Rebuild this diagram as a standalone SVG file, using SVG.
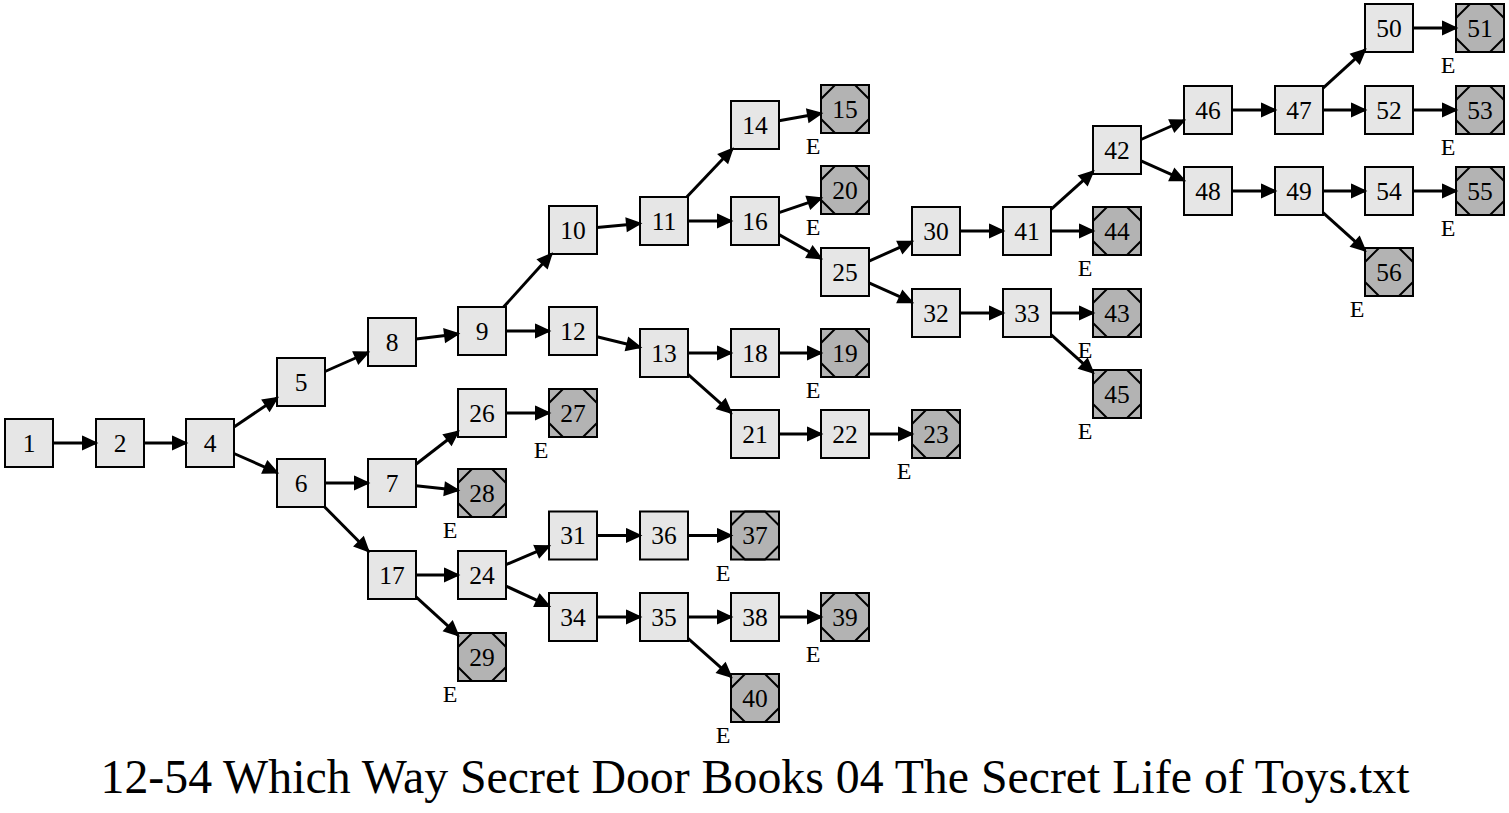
<svg xmlns="http://www.w3.org/2000/svg" width="1509" height="813" viewBox="0 0 1509 813">
  <style>
    use.b { fill: #e6e6e6; stroke: #000; stroke-width: 2; }
    .e use.b { fill: #b3b3b3; }
    use.o { fill: none; stroke: #000; stroke-width: 2; }
    text { font-family: "Liberation Serif", "Times New Roman", serif; fill: #000; stroke: none; }
    .lbl { font-size: 25.5px; text-anchor: middle; }
    .tag { font-size: 24px; text-anchor: middle; }
    .title { font-size: 48px; text-anchor: middle; }
    #edges path { fill: none; stroke: #000; stroke-width: 3; marker-end: url(#arrow); }
  </style>
  <defs>
    <marker id="arrow" markerUnits="userSpaceOnUse" markerWidth="20" markerHeight="16" refX="14" refY="6.5" orient="auto" overflow="visible">
      <path d="M1,0.5 L14,6.5 L1,12.5 Z" fill="#000" stroke="#000" stroke-width="2" stroke-linejoin="miter"/>
    </marker>
    <!-- 48x48 box and the octagon drawn inside end nodes -->
    <rect id="box" x="-24" y="-24" width="48" height="48"/>
    <polygon id="oct" points="-10,-24 10,-24 24,-10 24,10 10,24 -10,24 -24,10 -24,-10"/>
  </defs>

  <rect width="1509" height="813" fill="#fff"/>

  <!-- regular nodes -->
  <g id="n1" class="n" transform="translate(29,443)"><use class="b" href="#box"/><text class="lbl" y="8.5">1</text></g>
  <g id="n2" class="n" transform="translate(120,443)"><use class="b" href="#box"/><text class="lbl" y="8.5">2</text></g>
  <g id="n4" class="n" transform="translate(210,443)"><use class="b" href="#box"/><text class="lbl" y="8.5">4</text></g>
  <g id="n5" class="n" transform="translate(301,382)"><use class="b" href="#box"/><text class="lbl" y="8.5">5</text></g>
  <g id="n6" class="n" transform="translate(301,483)"><use class="b" href="#box"/><text class="lbl" y="8.5">6</text></g>
  <g id="n8" class="n" transform="translate(392,342)"><use class="b" href="#box"/><text class="lbl" y="8.5">8</text></g>
  <g id="n7" class="n" transform="translate(392,483)"><use class="b" href="#box"/><text class="lbl" y="8.5">7</text></g>
  <g id="n17" class="n" transform="translate(392,575)"><use class="b" href="#box"/><text class="lbl" y="8.5">17</text></g>
  <g id="n9" class="n" transform="translate(482,331)"><use class="b" href="#box"/><text class="lbl" y="8.5">9</text></g>
  <g id="n26" class="n" transform="translate(482,413)"><use class="b" href="#box"/><text class="lbl" y="8.5">26</text></g>
  <g id="n24" class="n" transform="translate(482,575)"><use class="b" href="#box"/><text class="lbl" y="8.5">24</text></g>
  <g id="n10" class="n" transform="translate(573,230)"><use class="b" href="#box"/><text class="lbl" y="8.5">10</text></g>
  <g id="n12" class="n" transform="translate(573,331)"><use class="b" href="#box"/><text class="lbl" y="8.5">12</text></g>
  <g id="n31" class="n" transform="translate(573,535.5)"><use class="b" href="#box"/><text class="lbl" y="8.5">31</text></g>
  <g id="n34" class="n" transform="translate(573,617)"><use class="b" href="#box"/><text class="lbl" y="8.5">34</text></g>
  <g id="n11" class="n" transform="translate(664,221)"><use class="b" href="#box"/><text class="lbl" y="8.5">11</text></g>
  <g id="n13" class="n" transform="translate(664,353)"><use class="b" href="#box"/><text class="lbl" y="8.5">13</text></g>
  <g id="n36" class="n" transform="translate(664,535.5)"><use class="b" href="#box"/><text class="lbl" y="8.5">36</text></g>
  <g id="n35" class="n" transform="translate(664,617)"><use class="b" href="#box"/><text class="lbl" y="8.5">35</text></g>
  <g id="n14" class="n" transform="translate(755,125)"><use class="b" href="#box"/><text class="lbl" y="8.5">14</text></g>
  <g id="n16" class="n" transform="translate(755,221)"><use class="b" href="#box"/><text class="lbl" y="8.5">16</text></g>
  <g id="n18" class="n" transform="translate(755,353)"><use class="b" href="#box"/><text class="lbl" y="8.5">18</text></g>
  <g id="n21" class="n" transform="translate(755,434)"><use class="b" href="#box"/><text class="lbl" y="8.5">21</text></g>
  <g id="n38" class="n" transform="translate(755,617)"><use class="b" href="#box"/><text class="lbl" y="8.5">38</text></g>
  <g id="n25" class="n" transform="translate(845,272)"><use class="b" href="#box"/><text class="lbl" y="8.5">25</text></g>
  <g id="n22" class="n" transform="translate(845,434)"><use class="b" href="#box"/><text class="lbl" y="8.5">22</text></g>
  <g id="n30" class="n" transform="translate(936,231)"><use class="b" href="#box"/><text class="lbl" y="8.5">30</text></g>
  <g id="n32" class="n" transform="translate(936,313)"><use class="b" href="#box"/><text class="lbl" y="8.5">32</text></g>
  <g id="n41" class="n" transform="translate(1027,231)"><use class="b" href="#box"/><text class="lbl" y="8.5">41</text></g>
  <g id="n33" class="n" transform="translate(1027,313)"><use class="b" href="#box"/><text class="lbl" y="8.5">33</text></g>
  <g id="n42" class="n" transform="translate(1117,150)"><use class="b" href="#box"/><text class="lbl" y="8.5">42</text></g>
  <g id="n46" class="n" transform="translate(1208,110)"><use class="b" href="#box"/><text class="lbl" y="8.5">46</text></g>
  <g id="n48" class="n" transform="translate(1208,191)"><use class="b" href="#box"/><text class="lbl" y="8.5">48</text></g>
  <g id="n47" class="n" transform="translate(1299,110)"><use class="b" href="#box"/><text class="lbl" y="8.5">47</text></g>
  <g id="n49" class="n" transform="translate(1299,191)"><use class="b" href="#box"/><text class="lbl" y="8.5">49</text></g>
  <g id="n50" class="n" transform="translate(1389,28)"><use class="b" href="#box"/><text class="lbl" y="8.5">50</text></g>
  <g id="n52" class="n" transform="translate(1389,110)"><use class="b" href="#box"/><text class="lbl" y="8.5">52</text></g>
  <g id="n54" class="n" transform="translate(1389,191)"><use class="b" href="#box"/><text class="lbl" y="8.5">54</text></g>

  <!-- end nodes, each tagged E -->
  <g id="n28" class="e" transform="translate(482,493)"><use class="b" href="#box"/><use class="o" href="#oct"/><text class="lbl" y="8.5">28</text><text class="tag" x="-32" y="45">E</text></g>
  <g id="n29" class="e" transform="translate(482,657)"><use class="b" href="#box"/><use class="o" href="#oct"/><text class="lbl" y="8.5">29</text><text class="tag" x="-32" y="45">E</text></g>
  <g id="n27" class="e" transform="translate(573,413)"><use class="b" href="#box"/><use class="o" href="#oct"/><text class="lbl" y="8.5">27</text><text class="tag" x="-32" y="45">E</text></g>
  <g id="n37" class="e" transform="translate(755,535.5)"><use class="b" href="#box"/><use class="o" href="#oct"/><text class="lbl" y="8.5">37</text><text class="tag" x="-32" y="45">E</text></g>
  <g id="n40" class="e" transform="translate(755,698)"><use class="b" href="#box"/><use class="o" href="#oct"/><text class="lbl" y="8.5">40</text><text class="tag" x="-32" y="45">E</text></g>
  <g id="n15" class="e" transform="translate(845,109)"><use class="b" href="#box"/><use class="o" href="#oct"/><text class="lbl" y="8.5">15</text><text class="tag" x="-32" y="45">E</text></g>
  <g id="n20" class="e" transform="translate(845,190)"><use class="b" href="#box"/><use class="o" href="#oct"/><text class="lbl" y="8.5">20</text><text class="tag" x="-32" y="45">E</text></g>
  <g id="n19" class="e" transform="translate(845,353)"><use class="b" href="#box"/><use class="o" href="#oct"/><text class="lbl" y="8.5">19</text><text class="tag" x="-32" y="45">E</text></g>
  <g id="n39" class="e" transform="translate(845,617)"><use class="b" href="#box"/><use class="o" href="#oct"/><text class="lbl" y="8.5">39</text><text class="tag" x="-32" y="45">E</text></g>
  <g id="n23" class="e" transform="translate(936,434)"><use class="b" href="#box"/><use class="o" href="#oct"/><text class="lbl" y="8.5">23</text><text class="tag" x="-32" y="45">E</text></g>
  <g id="n44" class="e" transform="translate(1117,231)"><use class="b" href="#box"/><use class="o" href="#oct"/><text class="lbl" y="8.5">44</text><text class="tag" x="-32" y="45">E</text></g>
  <g id="n43" class="e" transform="translate(1117,313)"><use class="b" href="#box"/><use class="o" href="#oct"/><text class="lbl" y="8.5">43</text><text class="tag" x="-32" y="45">E</text></g>
  <g id="n45" class="e" transform="translate(1117,394)"><use class="b" href="#box"/><use class="o" href="#oct"/><text class="lbl" y="8.5">45</text><text class="tag" x="-32" y="45">E</text></g>
  <g id="n56" class="e" transform="translate(1389,272)"><use class="b" href="#box"/><use class="o" href="#oct"/><text class="lbl" y="8.5">56</text><text class="tag" x="-32" y="45">E</text></g>
  <g id="n51" class="e" transform="translate(1480,28)"><use class="b" href="#box"/><use class="o" href="#oct"/><text class="lbl" y="8.5">51</text><text class="tag" x="-32" y="45">E</text></g>
  <g id="n53" class="e" transform="translate(1480,110)"><use class="b" href="#box"/><use class="o" href="#oct"/><text class="lbl" y="8.5">53</text><text class="tag" x="-32" y="45">E</text></g>
  <g id="n55" class="e" transform="translate(1480,191)"><use class="b" href="#box"/><use class="o" href="#oct"/><text class="lbl" y="8.5">55</text><text class="tag" x="-32" y="45">E</text></g>

  <!-- connectors: straight segments clipped at the box borders -->
  <g id="edges">
    <path d="M53,443 L96,443"/>
    <path d="M144,443 L186,443"/>
    <path d="M234,426.9 L277,398.1"/>
    <path d="M234,453.5 L277,472.5"/>
    <path d="M325,371.5 L368,352.5"/>
    <path d="M325,483 L368,483"/>
    <path d="M324.7,507 L368.3,551"/>
    <path d="M416,339.1 L458,333.9"/>
    <path d="M416,464.3 L458,431.7"/>
    <path d="M416,485.7 L458,490.3"/>
    <path d="M416,575 L458,575"/>
    <path d="M416,596.9 L458,635.1"/>
    <path d="M503.6,307 L551.4,254"/>
    <path d="M506,331 L549,331"/>
    <path d="M506,413 L549,413"/>
    <path d="M506,564.7 L549,546.3"/>
    <path d="M506,586.1 L549,605.9"/>
    <path d="M597,227.6 L640,223.4"/>
    <path d="M597,336.8 L640,347.2"/>
    <path d="M597,535.5 L640,535.5"/>
    <path d="M597,617 L640,617"/>
    <path d="M686.75,197 L732.25,149"/>
    <path d="M688,221 L731,221"/>
    <path d="M688,353 L731,353"/>
    <path d="M688,374.4 L731,412.6"/>
    <path d="M688,535.5 L731,535.5"/>
    <path d="M688,617 L731,617"/>
    <path d="M688,638.4 L731,676.6"/>
    <path d="M779,120.7 L821,113.3"/>
    <path d="M779,212.7 L821,198.3"/>
    <path d="M779,234.6 L821,258.4"/>
    <path d="M779,353 L821,353"/>
    <path d="M779,434 L821,434"/>
    <path d="M779,617 L821,617"/>
    <path d="M869,434 L912,434"/>
    <path d="M869,261.2 L912,241.8"/>
    <path d="M869,282.8 L912,302.2"/>
    <path d="M960,231 L1003,231"/>
    <path d="M960,313 L1003,313"/>
    <path d="M1051,209.4 L1093,171.6"/>
    <path d="M1051,231 L1093,231"/>
    <path d="M1051,313 L1093,313"/>
    <path d="M1051,334.6 L1093,372.4"/>
    <path d="M1141,139.5 L1184,120.5"/>
    <path d="M1141,160.8 L1184,180.2"/>
    <path d="M1232,110 L1275,110"/>
    <path d="M1232,191 L1275,191"/>
    <path d="M1323,88.1 L1365,49.9"/>
    <path d="M1323,110 L1365,110"/>
    <path d="M1323,191 L1365,191"/>
    <path d="M1323,212.6 L1365,250.4"/>
    <path d="M1413,28 L1456,28"/>
    <path d="M1413,110 L1456,110"/>
    <path d="M1413,191 L1456,191"/>
  </g>

  <text class="title" x="755" y="793" textLength="1309" lengthAdjust="spacingAndGlyphs">12-54 Which Way Secret Door Books 04 The Secret Life of Toys.txt</text>
</svg>
